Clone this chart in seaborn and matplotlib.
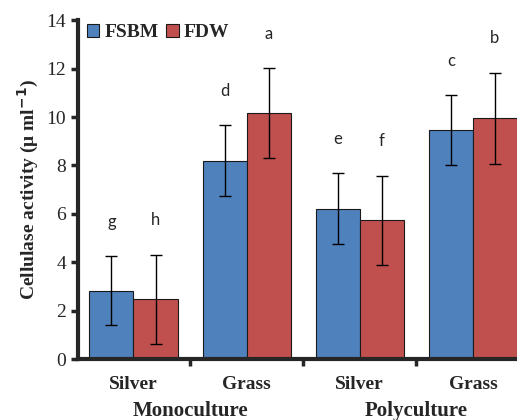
import numpy as np
import pandas as pd
import seaborn as sns
import matplotlib.pyplot as plt
from matplotlib.transforms import blended_transform_factory

# data
species = ["Silver", "Grass", "Silver", "Grass"]
groups = ["Monoculture", "Polyculture"]
fsbm = [2.82, 8.19, 6.22, 9.46]
fsbm_err = [1.43, 1.46, 1.46, 1.44]
fdw = [2.47, 10.15, 5.74, 9.95]
fdw_err = [1.85, 1.86, 1.84, 1.88]
letters_fsbm = ["g", "d", "e", "c"]
letters_fdw = ["h", "a", "f", "b"]

sns.set_style("ticks")
plt.rcParams["font.family"] = ["Liberation Serif", "DejaVu Serif"]

cats = ["Mono Silver", "Mono Grass", "Poly Silver", "Poly Grass"]
df = pd.DataFrame({
    "cat": cats * 2,
    "val": fsbm + fdw,
    "err": fsbm_err + fdw_err,
    "trt": ["FSBM"] * 4 + ["FDW"] * 4,
    "letter": letters_fsbm + letters_fdw,
})

fig = plt.figure(figsize=(5.17, 4.2), dpi=100)
ax = fig.add_axes([0.151, 0.145, 0.849, 0.807])

sns.barplot(data=df, x="cat", y="val", hue="trt", order=cats,
            hue_order=["FSBM", "FDW"], palette=["#4F81BD", "#C0504D"],
            width=0.78, errorbar=None, edgecolor="#1a1a1a", linewidth=0.8,
            saturation=1, ax=ax)

# error bars and significance letters on bar centres
bars = ax.patches[:8]
for bar, (_, row) in zip(bars, df.iterrows()):
    xc = bar.get_x() + bar.get_width() / 2
    ax.errorbar(xc, row["val"], yerr=row["err"], color="black", capsize=4,
                elinewidth=1, capthick=1, fmt="none")
    ax.text(xc, row["val"] + row["err"] + 1.1, row["letter"], ha="center",
            va="bottom", fontsize=12, family=["Lato", "DejaVu Sans"])

ax.set_ylim(0, 14)
ax.set_yticks(np.arange(0, 15, 2))
ax.set_xlim(-0.49, 3.39)
ax.set_xticks(range(4))
ax.set_xticklabels(species, fontsize=14, fontweight="bold")
ax.set_xticks([0.5, 1.5, 2.5], minor=True)
ax.tick_params(axis="x", which="major", length=0, pad=12)
ax.tick_params(axis="x", which="minor", length=5, width=2.5, direction="out")
ax.tick_params(axis="y", length=5, width=2.5, labelsize=14, direction="out")
ax.set_xlabel("")
ax.set_ylabel("Cellulase activity (μ ml$^{\\mathbf{-1}}$)", fontsize=14,
              fontweight="bold")

for sp in ["top", "right"]:
    ax.spines[sp].set_visible(False)
for sp in ["left", "bottom"]:
    ax.spines[sp].set_linewidth(3)

trans = blended_transform_factory(ax.transData, ax.transAxes)
for i, g in enumerate(groups):
    ax.text(2 * i + 0.5, -0.152, g, transform=trans, ha="center", va="center",
            fontsize=15, fontweight="bold")

ax.legend(loc="upper left", bbox_to_anchor=(-0.02, 1.04), ncol=2, frameon=False,
          handlelength=0.65, handleheight=0.65, handletextpad=0.25,
          columnspacing=0.4, prop={"weight": "bold", "size": 14})

fig.savefig("out.png", dpi=100)
